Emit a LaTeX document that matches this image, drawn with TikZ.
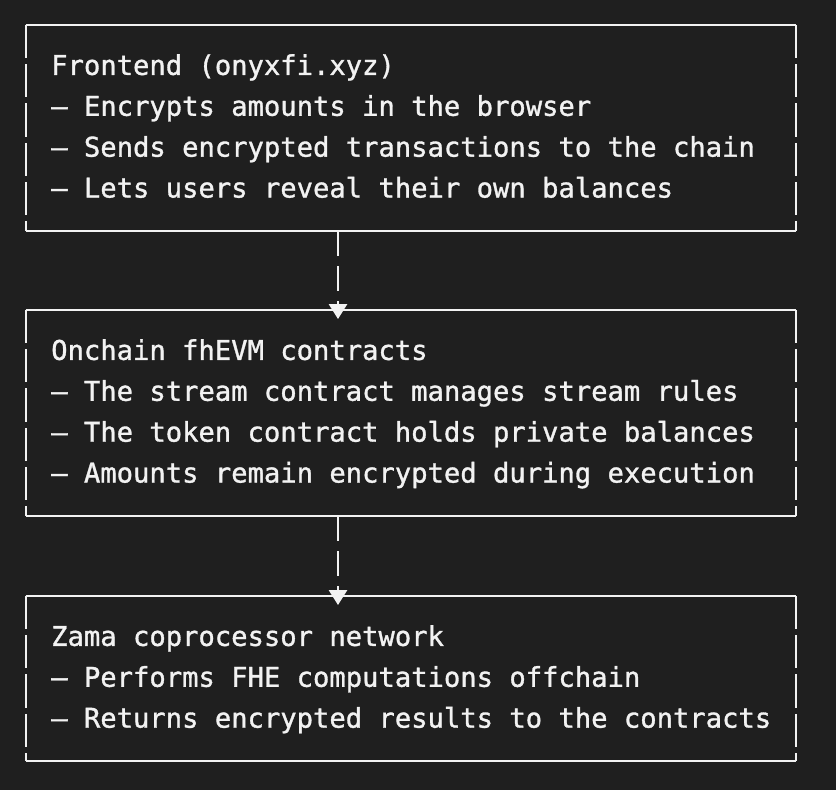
\documentclass[tikz,border=0pt]{standalone}
\usepackage{fontspec}
\setmonofont[FakeBold=1.2]{DejaVu Sans Mono}
\usetikzlibrary{arrows.meta,calc}
\definecolor{bg}{HTML}{1F1F1F}
\definecolor{fg}{HTML}{F2F2F2}
\tikzset{
  box/.style={minimum width=23.1cm, inner sep=0pt},
  txt/.style={anchor=north west, align=left, text=fg, inner sep=0pt,
    font=\ttfamily\fontsize{23.2pt}{34.9pt}\selectfont},
  side/.style={fg, line width=1.6pt, dash pattern=on 1.0cm off 0.18cm},
  edge/.style={fg, line width=1.6pt},
  flow/.style={fg, line width=1.6pt, dash pattern=on 0.75cm off 0.3cm,
    -{Triangle[width=0.55cm,length=0.45cm]}}
}
\begin{document}
\begin{tikzpicture}[x=0.03cm,y=-0.03cm]
  \fill[bg] (0,0) rectangle (836,790);
  \useasboundingbox (0,0) rectangle (836,790);

  \node[box, minimum height=6.18cm] (front) at (411,128) {};
  \node[box, minimum height=6.18cm] (chain) at (411,413) {};
  \node[box, minimum height=4.95cm] (zama) at (411,678.5) {};

  \foreach \b in {front,chain,zama}{
    \draw[edge] (\b.north west) -- (\b.north east);
    \draw[edge] (\b.south west) -- (\b.south east);
    \draw[side] (\b.north west) -- (\b.south west);
    \draw[side] (\b.north east) -- (\b.south east);
  }

  \node[txt] (frontText) at (51,54) {Frontend (onyxfi.xyz)\\
    – Encrypts amounts in the browser\\
    – Sends encrypted transactions to the chain\\
    – Lets users reveal their own balances};
  \node[txt] (chainText) at (51,339) {Onchain fhEVM contracts\\
    – The stream contract manages stream rules\\
    – The token contract holds private balances\\
    – Amounts remain encrypted during execution};
  \node[txt] (zamaText) at (51,625) {Zama coprocessor network\\
    – Performs FHE computations offchain\\
    – Returns encrypted results to the contracts};

  \coordinate (a1) at (338,231);
  \coordinate (a2) at (338,319);
  \coordinate (b1) at (338,516);
  \coordinate (b2) at (338,605);
  \draw[flow] (a1) -- (a2);
  \draw[flow] (b1) -- (b2);
\end{tikzpicture}
\end{document}
